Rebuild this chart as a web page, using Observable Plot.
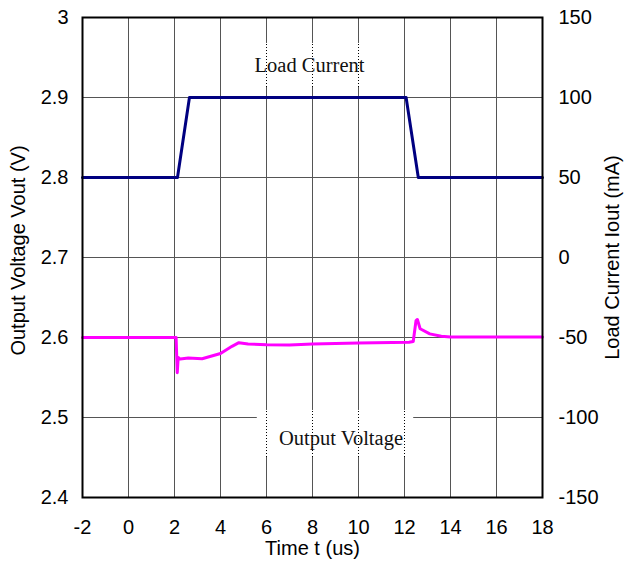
<!DOCTYPE html>
<html>
<head>
<meta charset="utf-8">
<script src="https://cdn.jsdelivr.net/npm/d3@7"></script>
<script src="https://cdn.jsdelivr.net/npm/@observablehq/plot@0.6"></script>
<style>
  html, body { margin: 0; padding: 0; background: white; }
</style>
</head>
<body>
<div id="chart"></div>
<script>
// Tick values
const xTicks = [-2, 0, 2, 4, 6, 8, 10, 12, 14, 16, 18];
const yTicks = [2.4, 2.5, 2.6, 2.7, 2.8, 2.9, 3.0];

// Load current (mA) vs time (us)
const currentT  = [-2, 2.13, 2.65, 12.07, 12.6, 18];
const currentMA = [50, 50, 100, 100, 50, 50];

// Output voltage (V) vs time (us)
const voltT = [-2, 2.07, 2.12, 2.16, 2.25, 2.6, 3.2, 4.0, 4.5, 4.8, 5.2, 6, 7, 8, 10, 12.2, 12.38, 12.5, 12.56, 12.68, 13.1, 13.6, 14, 18];
const voltV = [2.6, 2.6, 2.556, 2.575, 2.573, 2.5745, 2.5735, 2.58, 2.589, 2.5935, 2.592, 2.591, 2.5905, 2.592, 2.593, 2.594, 2.595, 2.621, 2.6225, 2.611, 2.6045, 2.6015, 2.6005, 2.6005];

// Annotations: label, center x, center y, box extents (data units)
const notes = [
  {label: "Load Current",   x: 7.87, y: 2.94,   x1: 5.1, x2: 10.5,  y1: 2.9125, y2: 2.9675},
  {label: "Output Voltage", x: 9.24, y: 2.4737, x1: 5.6, x2: 12.4, y1: 2.45,   y2: 2.5088}
];

// Right axis: current mA mapped onto voltage scale (2.8 V <-> 50 mA, 0.1 V <-> 50 mA)
const mAtoV = mA => 2.7 + mA / 500;
const VtomA = v => Math.round((v - 2.7) * 500);

const current = currentT.map((t, i) => ({t, v: mAtoV(currentMA[i])}));
const volt = voltT.map((t, i) => ({t, v: voltV[i]}));

// dotted grid segments inside annotation boxes
const dotted = [];
notes.forEach(n => xTicks.filter(x => x > n.x1 && x < n.x2).forEach(x => dotted.push({x, y1: n.y1, y2: n.y2})));

const chart = Plot.plot({
  width: 635,
  height: 562,
  marginLeft: 82,
  marginRight: 93,
  marginTop: 17,
  marginBottom: 65,
  style: {fontFamily: "'Liberation Sans', Arial, sans-serif", fontSize: "20px", background: "white", color: "black"},
  x: {domain: [-2, 18]},
  y: {domain: [2.4, 3.0]},
  marks: [
    Plot.ruleX(xTicks, {stroke: "#555", strokeWidth: 1}),
    Plot.ruleY(yTicks, {stroke: "#555", strokeWidth: 1}),
    Plot.rect(notes, {x1: "x1", x2: "x2", y1: "y1", y2: "y2", fill: "white"}),
    Plot.ruleX(dotted, {x: "x", y1: "y1", y2: "y2", stroke: "black", strokeWidth: 1, strokeDasharray: "1,2"}),
    Plot.line(volt, {x: "t", y: "v", stroke: "#ff00ff", strokeWidth: 3}),
    Plot.line(current, {x: "t", y: "v", stroke: "#000080", strokeWidth: 3}),
    Plot.text(notes, {x: "x", y: "y", text: "label", fontFamily: "'Liberation Serif', 'Times New Roman', serif", fontSize: 20.5, fill: "#111"}),
    Plot.frame({stroke: "black", strokeWidth: 2}),
    Plot.axisX({ticks: xTicks, tickSize: 0, tickPadding: 22, tickFormat: d => String(d), label: null}),
    Plot.axisY({anchor: "left", ticks: yTicks, tickSize: 0, tickPadding: 14, tickFormat: d => String(+d.toFixed(1)), label: null}),
    Plot.axisY({anchor: "right", ticks: yTicks, tickSize: 0, tickPadding: 16, tickFormat: d => String(VtomA(d)), label: null}),
    Plot.text(["Time t (us)"], {text: d => d, frameAnchor: "bottom", dy: 51, lineAnchor: "middle", textAnchor: "middle", fontSize: 20}),
    Plot.text(["Output Voltage Vout (V)"], {text: d => d, frameAnchor: "left", dx: -64, dy: -7, rotate: -90, textAnchor: "middle", lineAnchor: "middle", fontSize: 20}),
    Plot.text(["Load Current Iout (mA)"], {text: d => d, frameAnchor: "right", dx: 70, rotate: -90, textAnchor: "middle", lineAnchor: "middle", fontSize: 20})
  ]
});
document.getElementById("chart").appendChild(chart);
</script>
</body>
</html>
